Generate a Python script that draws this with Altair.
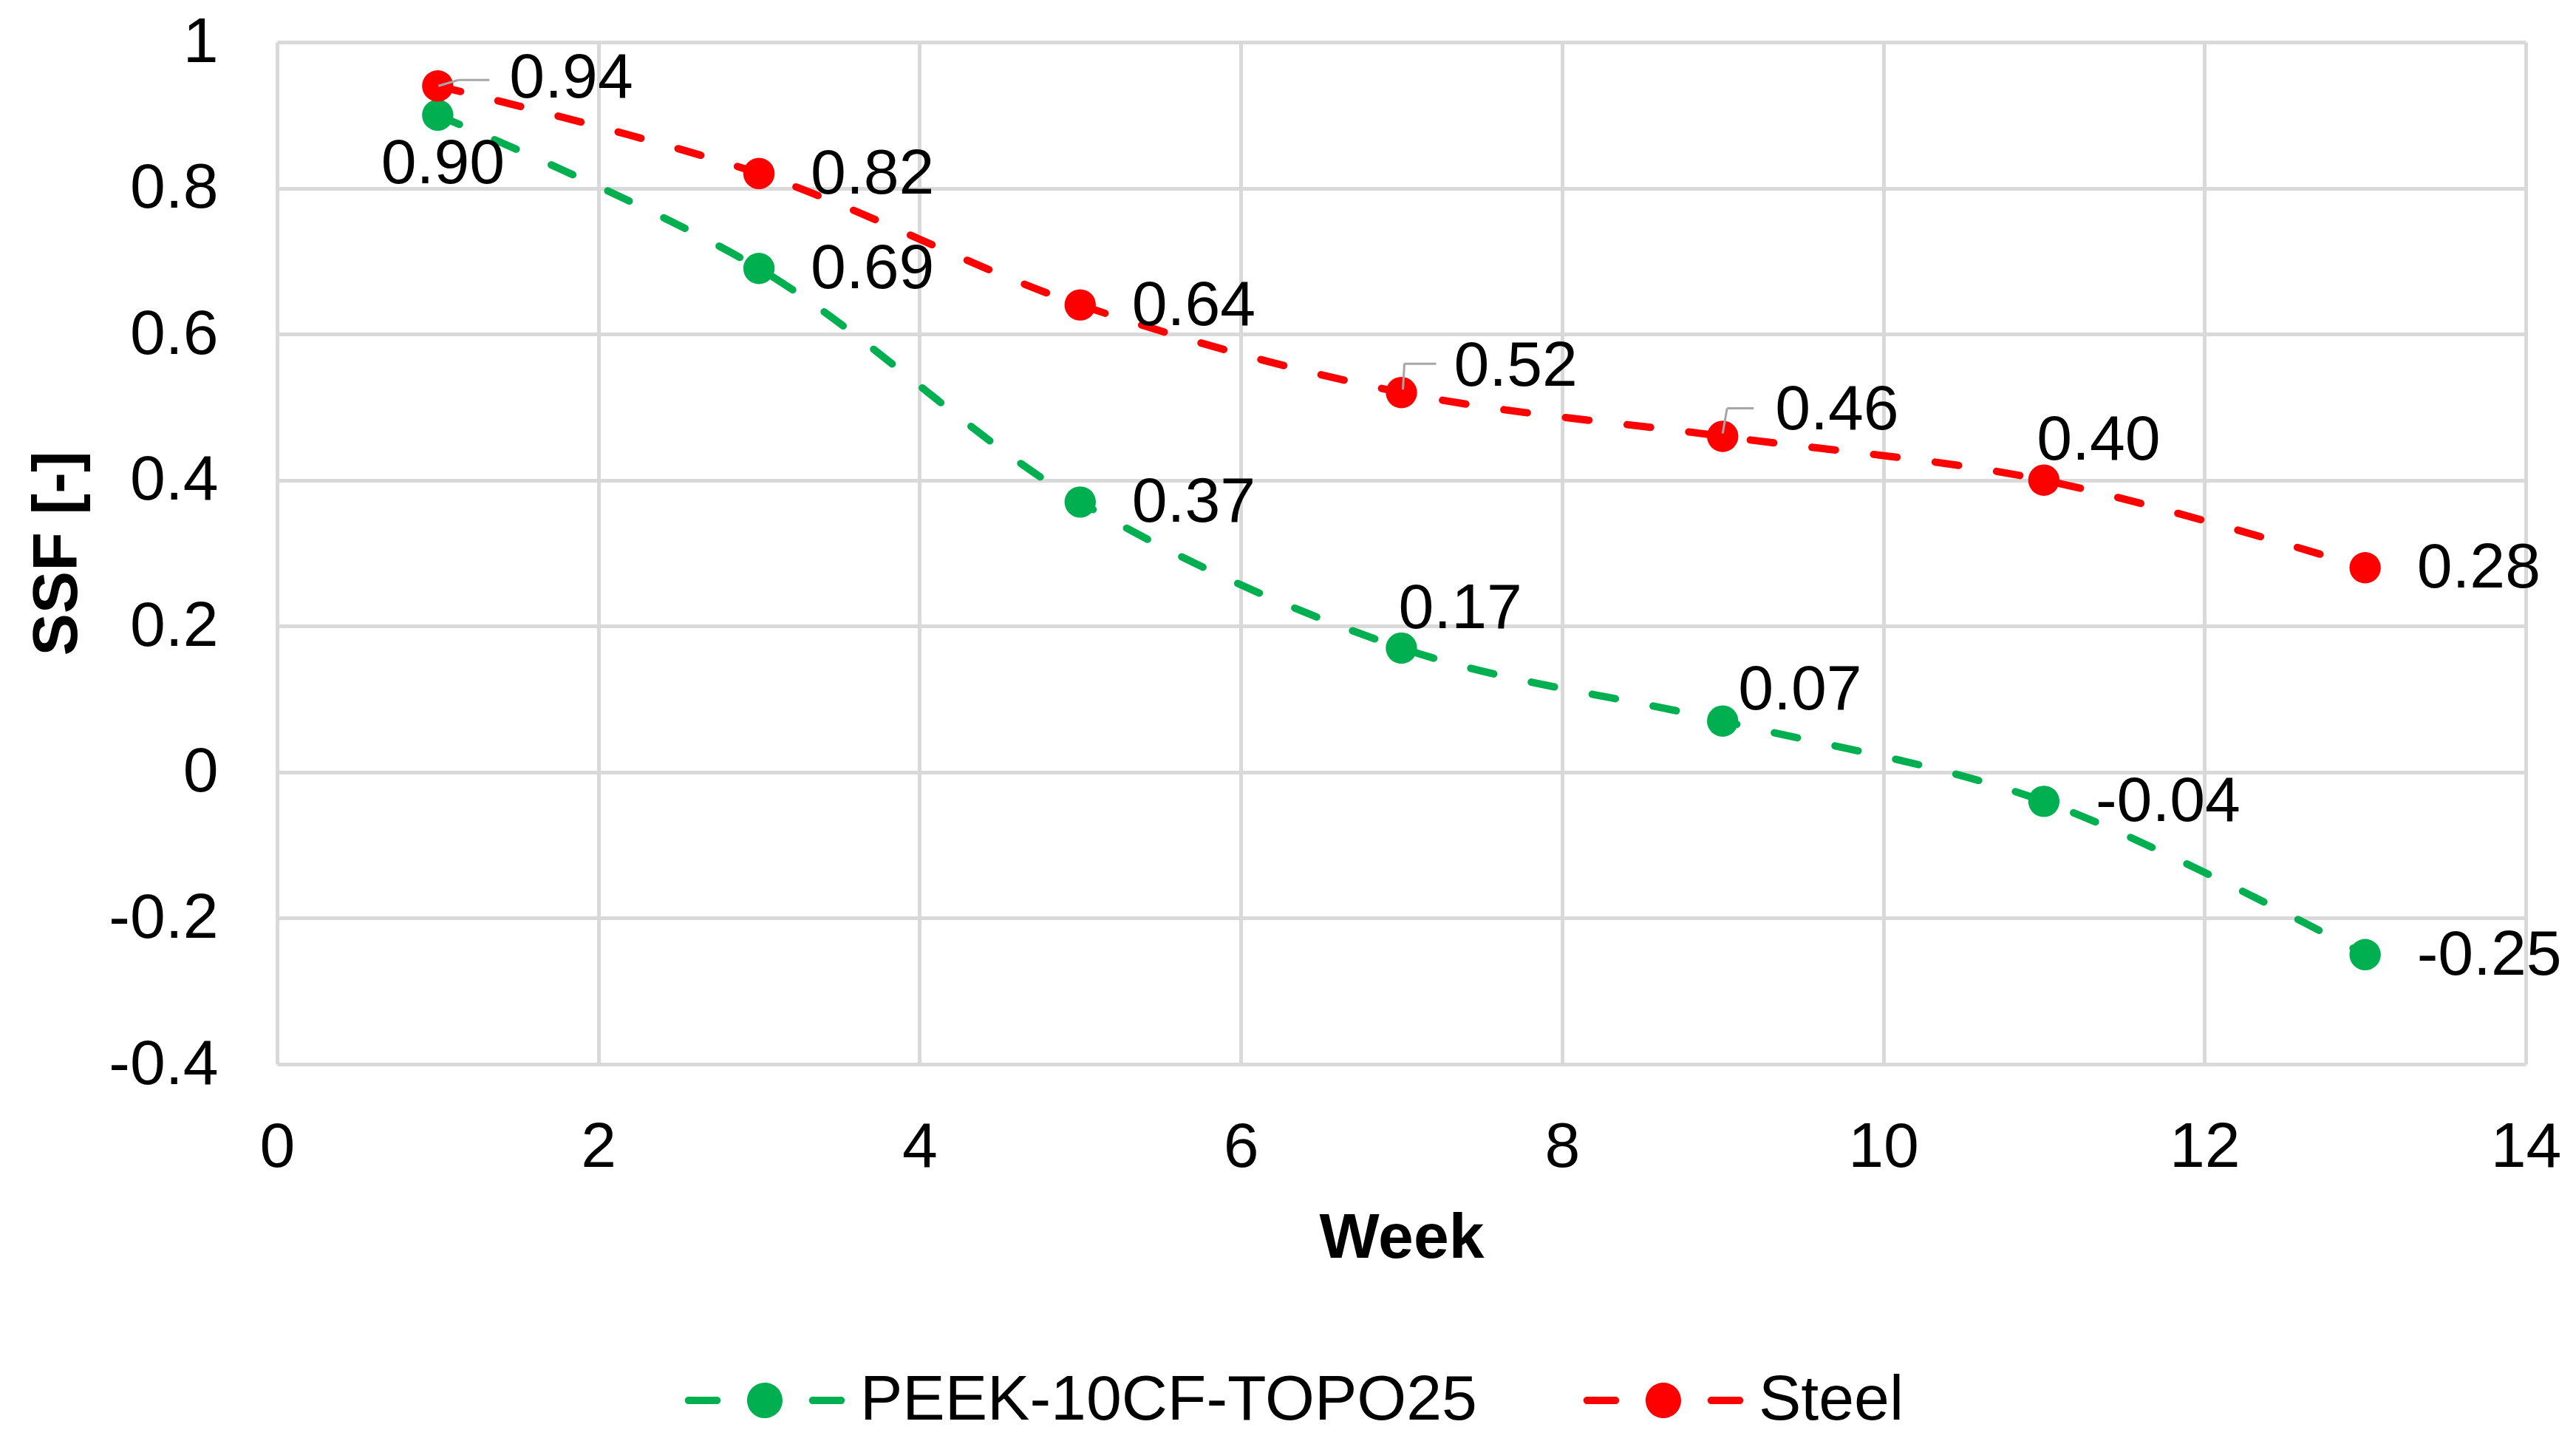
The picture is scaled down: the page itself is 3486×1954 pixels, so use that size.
import altair as alt
import pandas as pd

# ---- data ----
weeks = [1, 3, 5, 7, 9, 11, 13]
peek_ssf = [0.90, 0.69, 0.37, 0.17, 0.07, -0.04, -0.25]
steel_ssf = [0.94, 0.82, 0.64, 0.52, 0.46, 0.40, 0.28]
series_names = ["PEEK-10CF-TOPO25", "Steel"]
series_colors = ["#00B050", "#FF0000"]
x_ticks = [0, 2, 4, 6, 8, 10, 12, 14]
y_ticks = [-0.4, -0.2, 0.0, 0.2, 0.4, 0.6, 0.8, 1.0]

rows = []
for name, vals in zip(series_names, [peek_ssf, steel_ssf]):
    for w, v in zip(weeks, vals):
        rows.append({"series": name, "week": w, "ssf": v, "label": f"{v:.2f}"})
df = pd.DataFrame(rows)

FONT = "Liberation Sans"
FS = 86

x_enc = alt.X(
    "week:Q",
    scale=alt.Scale(domain=[0, 14], nice=False, zero=False),
    axis=alt.Axis(values=x_ticks, format="d", title="Week", labelPadding=70,
                  titlePadding=38, labelFlush=False),
)
y_enc = alt.Y(
    "ssf:Q",
    scale=alt.Scale(domain=[-0.4, 1.0], nice=False, zero=False),
    axis=alt.Axis(
        values=y_ticks,
        title="SSF [-]",
        labelExpr="datum.value == 0 ? '0' : toString(round(datum.value * 10) / 10)",
        labelPadding=80,
        titlePadding=54,
        labelFlush=False,
    ),
)
color_scale = alt.Scale(domain=series_names, range=series_colors)

legend_symbol = (
    "M-4.3,-0.21 L-2.7,-0.21 A0.21,0.21 0 0 1 -2.7,0.21 L-4.3,0.21 A0.21,0.21 0 0 1 -4.3,-0.21 Z "
    "M-1,0 A1,1 0 1 0 1,0 A1,1 0 1 0 -1,0 Z "
    "M2.7,-0.21 L4.3,-0.21 A0.21,0.21 0 0 1 4.3,0.21 L2.7,0.21 A0.21,0.21 0 0 1 2.7,-0.21 Z"
)

legend = alt.Legend(
    title=None,
    orient="none",
    legendX=617,
    legendY=1795,
    direction="horizontal",
    symbolType=legend_symbol,
    symbolSize=2304,
    symbolStrokeWidth=0,
    symbolOpacity=1,
    symbolDash=[1, 0],
    labelFont=FONT,
    labelFontSize=FS,
    labelColor="#000000",
    labelOffset=86,
    labelLimit=3000,
    columnPadding=143,
    padding=0,
)
color_enc = alt.Color("series:N", scale=color_scale, legend=legend)

base = alt.Chart(df)

lines = base.mark_line(
    strokeWidth=10, strokeDash=[32, 52], strokeCap="round", interpolate="catmull-rom"
).encode(x=x_enc, y=y_enc, color=color_enc)

points = base.mark_circle(size=1800, opacity=1).encode(x=x_enc, y=y_enc, color=color_enc)


def labels(expr, dx, dy, align="left"):
    return (
        base.transform_filter(expr)
        .mark_text(align=align, baseline="middle", dx=dx, dy=dy, font=FONT, fontSize=FS, color="#000000")
        .encode(x="week:Q", y="ssf:Q", text="label:N")
    )


S = "datum.series == 'Steel'"
P = "datum.series == 'PEEK-10CF-TOPO25'"

text_layers = [
    labels(f"({S} && indexof([3,5,13], datum.week) >= 0) || ({P} && indexof([3,5,11,13], datum.week) >= 0)", 70, 1),
    labels(f"{S} && indexof([7,9], datum.week) >= 0", 71, -35),
    labels(f"{S} && datum.week == 1", 97, -10),
    labels(f"{S} && datum.week == 11", 74, -54, "center"),
    labels(f"{P} && datum.week == 1", 7, 66, "center"),
    labels(f"{P} && datum.week == 7", -4, -53),
    labels(f"{P} && datum.week == 9", 21, -42),
]


def leader(expr, x0, y0, x1, y1):
    return (
        base.transform_filter(expr)
        .mark_rule(color="#A6A6A6", strokeWidth=3, xOffset=x0, yOffset=y0, x2Offset=x1, y2Offset=y1)
        .encode(x="week:Q", y="ssf:Q", x2="week:Q", y2="ssf:Q")
    )


leaders = [
    leader(f"{S} && datum.week == 1", 1, 0, 28, -8),
    leader(f"{S} && datum.week == 1", 28, -8, 70, -8),
    leader(f"{S} && datum.week == 7", 2, -4, 4, -39),
    leader(f"{S} && datum.week == 7", 4, -39, 47, -39),
    leader(f"{S} && datum.week == 9", 0, -4, 6, -38),
    leader(f"{S} && datum.week == 9", 6, -38, 42, -38),
]

chart = (
    alt.layer(lines, points, *leaders, *text_layers)
    .properties(
        width=3043,
        height=1383,
        padding={"left": 367, "top": 49, "right": 60, "bottom": 499},
        autosize=alt.AutoSizeParams(type="none"),
        background="white",
    )
    .configure_view(stroke=None)
    .configure_axis(
        labelFont=FONT,
        labelFontSize=FS,
        labelColor="#000000",
        titleFont=FONT,
        titleFontSize=FS,
        titleFontWeight="bold",
        titleColor="#000000",
        ticks=False,
        domain=False,
        grid=True,
        gridColor="#D9D9D9",
        gridWidth=5,
    )
)

chart.save("out.html", embed_options={"renderer": "svg", "actions": False})
